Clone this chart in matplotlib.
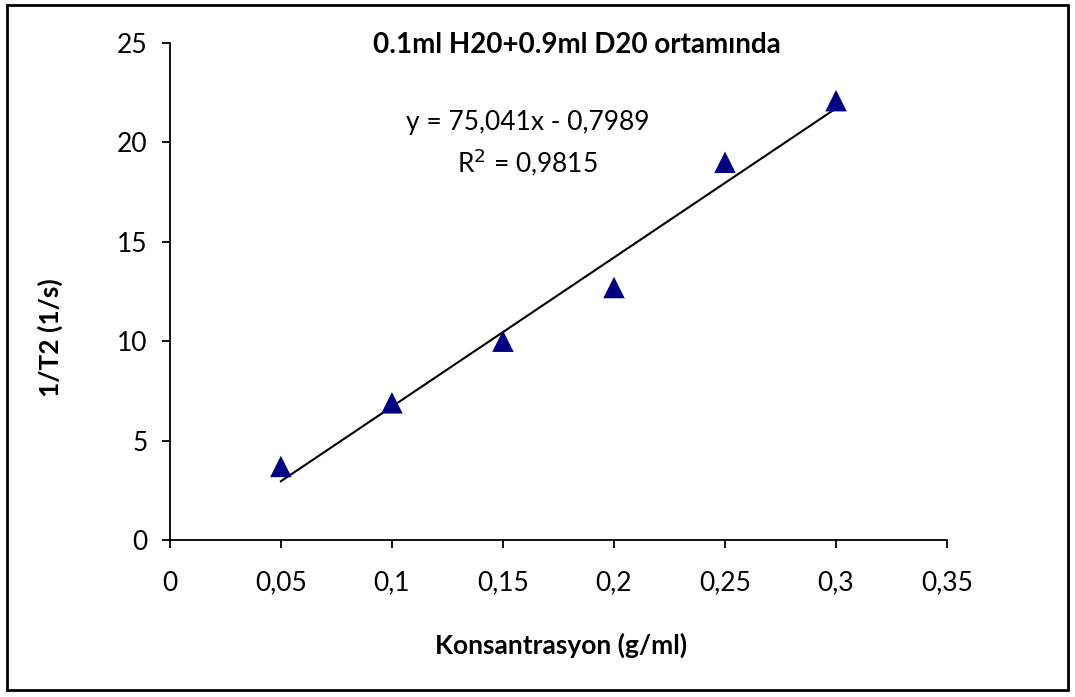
import numpy as np
import matplotlib.pyplot as plt
from matplotlib.patches import Rectangle

# ---------- data ----------
konsantrasyon = [0.05, 0.10, 0.15, 0.20, 0.25, 0.30]
inv_t2 = [3.7, 6.9, 10.0, 12.7, 19.0, 22.1]

slope = 75.041
intercept = -0.7989
r2 = 0.9815

x_ticks = [0, 0.05, 0.1, 0.15, 0.2, 0.25, 0.3, 0.35]
x_tick_labels = ["0", "0,05", "0,1", "0,15", "0,2", "0,25", "0,3", "0,35"]
y_ticks = [0, 5, 10, 15, 20, 25]

plt.rcParams["font.family"] = ["Lato", "DejaVu Sans"]

fig = plt.figure(figsize=(10.75, 6.97), dpi=100)
ax = fig.add_axes([0.158, 0.2253, 0.723, 0.713])

# trendline over the data range
xs = np.array([min(konsantrasyon), max(konsantrasyon)])
ax.plot(xs, slope * xs + intercept, color="black", lw=1.5, zorder=2)

ax.scatter(konsantrasyon, inv_t2, marker="^", s=240, color="#000080",
           edgecolors="none", zorder=3)

ax.set_xlim(0, 0.35)
ax.set_ylim(0, 25)
ax.set_xticks(x_ticks)
ax.set_xticklabels(x_tick_labels)
ax.set_yticks(y_ticks)

for side in ("top", "right"):
    ax.spines[side].set_visible(False)
for side in ("left", "bottom"):
    ax.spines[side].set_linewidth(1.3)
ax.tick_params(axis="both", direction="out", length=6, width=1.3, labelsize=19)
ax.tick_params(axis="x", pad=16)
ax.tick_params(axis="y", pad=10)

ax.set_xlabel("Konsantrasyon (g/ml)", fontsize=19, fontweight="bold")
ax.xaxis.set_label_coords(0.503, -0.187)
ax.set_ylabel("1/T2 (1/s)", fontsize=19, fontweight="bold")
ax.yaxis.set_label_coords(-0.138, 0.408)

ax.text(0.524, 0.996, "0.1ml H20+0.9ml D20 ortamında", transform=ax.transAxes,
        fontsize=20, fontweight="bold", ha="center", va="center")

eq_x = 0.161
ax.text(eq_x, 21.0, "y = 75,041x - 0,7989", fontsize=19, ha="center", va="center")
ax.text(eq_x, 19.0, "R$^2$ = 0,9815", fontsize=19, ha="center", va="center")

# outer chart frame
fig.patches.append(Rectangle((0.0065, 0.01), 0.987, 0.983, transform=fig.transFigure,
                             fill=False, edgecolor="black", lw=2))

fig.savefig("out.png", dpi=100)
